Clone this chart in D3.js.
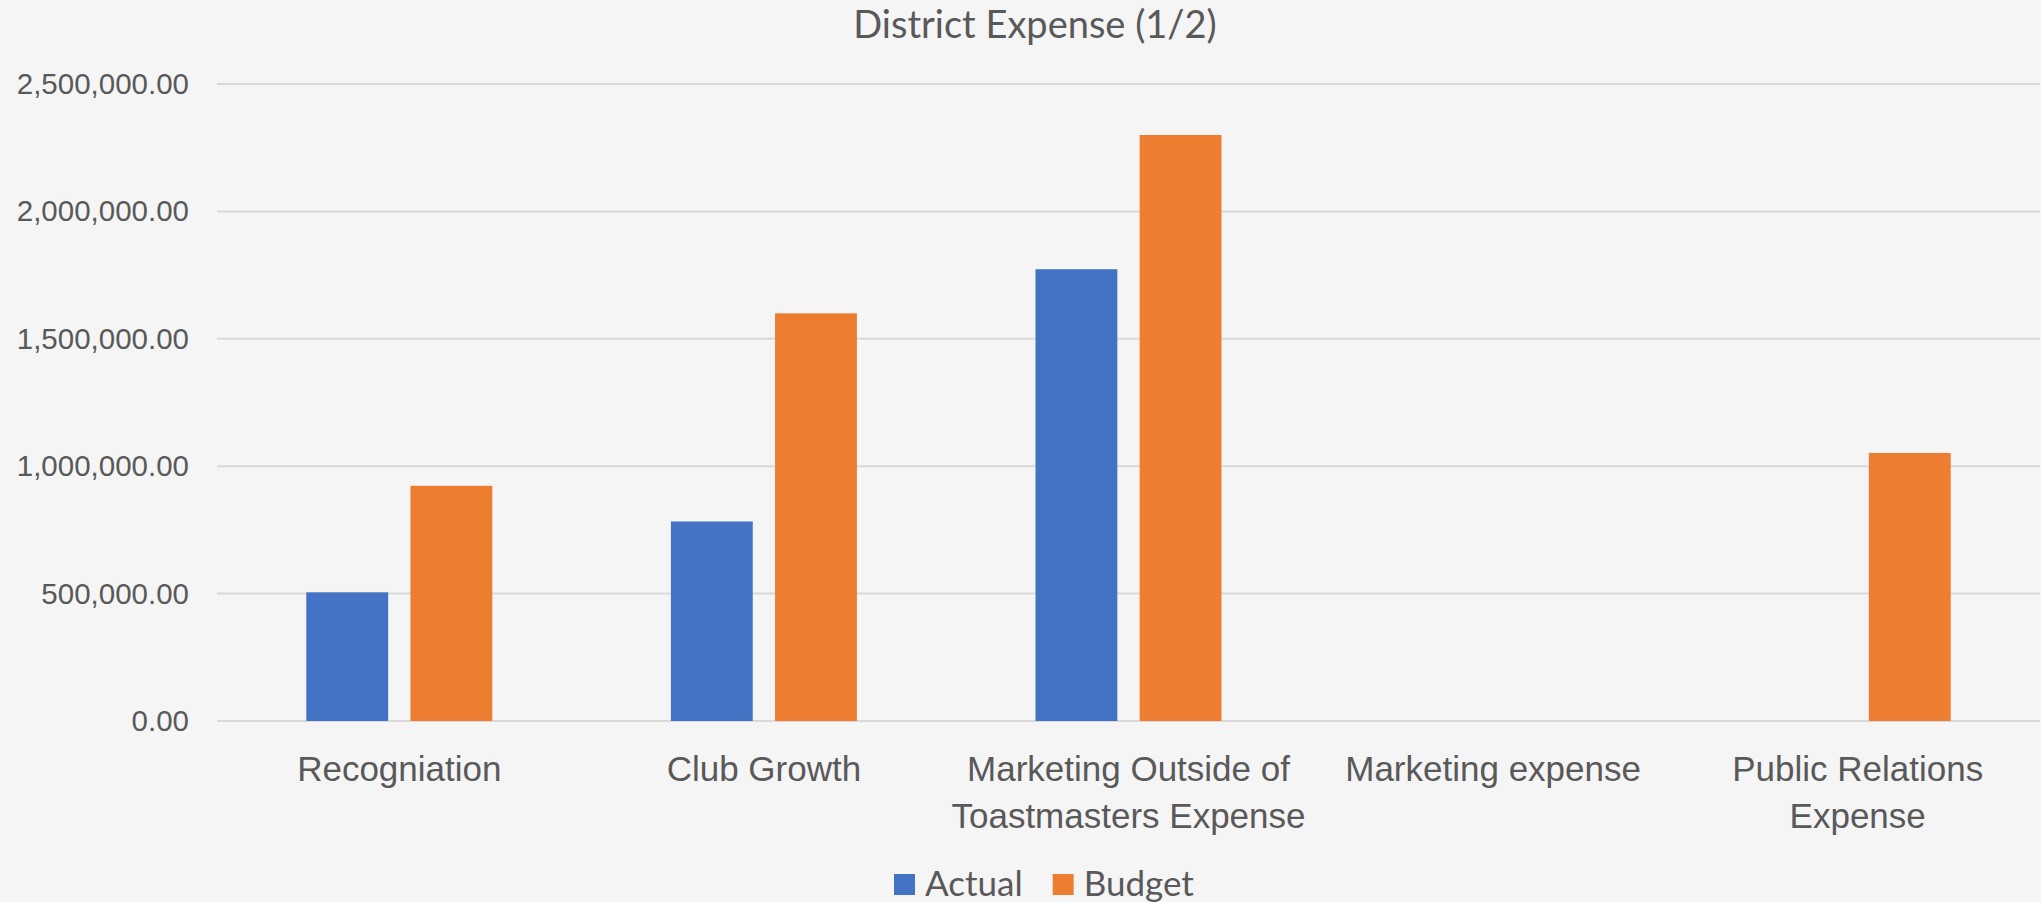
<!DOCTYPE html>
<html>
<head>
<meta charset="utf-8">
<script src="https://cdn.jsdelivr.net/npm/d3@7"></script>
<style>
  html, body { margin: 0; padding: 0; background: #f5f5f5; }
  svg { display: block; font-family: Lato, "Open Sans", sans-serif; }
  .axis path { display: none; }
</style>
</head>
<body>
<svg width="2041" height="902"></svg>
<script>
var categories = ["Recogniation", "Club Growth", "Marketing Outside of Toastmasters Expense", "Marketing expense", "Public Relations Expense"];
var seriesNames = ["Actual", "Budget"];
var actual = [505000, 783000, 1773000, 0, 0];
var budget = [923000, 1600000, 2300000, 0, 1052000];
var yTicks = [0, 500000, 1000000, 1500000, 2000000, 2500000];
var title = "District Expense (1/2)";

var colors = ["#4472c4", "#ed7d31"];
var textColor = "#595959";

var svg = d3.select("svg"),
    W = +svg.attr("width"),
    H = +svg.attr("height"),
    margin = {top: 84, right: 1, bottom: 181, left: 217},
    width = W - margin.left - margin.right,
    height = H - margin.top - margin.bottom,
    g = svg.append("g").attr("transform", "translate(" + margin.left + "," + margin.top + ")");

svg.insert("rect", ":first-child")
    .attr("width", W).attr("height", H).attr("fill", "#f5f5f5");

var rows = categories.map(function(c, i) {
  return {cat: c, values: [{s: 0, v: actual[i]}, {s: 1, v: budget[i]}]};
});

var x0 = d3.scaleBand()
    .domain(categories)
    .range([0, width])
    .padding(0);

var groupW = 186;
var x1 = d3.scaleBand()
    .domain(d3.range(seriesNames.length))
    .range([(x0.bandwidth() - groupW) / 2, (x0.bandwidth() + groupW) / 2])
    .paddingInner(0.214);

var y = d3.scaleLinear()
    .domain([0, 2500000])
    .range([height, 0]);

// grid
g.append("g")
  .selectAll("line")
  .data(yTicks)
  .enter().append("line")
    .attr("x1", 0)
    .attr("x2", width)
    .attr("y1", function(d) { return y(d); })
    .attr("y2", function(d) { return y(d); })
    .attr("stroke", "#d9d9d9")
    .attr("stroke-width", 2);

var groups = g.selectAll(".grp")
  .data(rows)
  .enter().append("g")
    .attr("class", "grp")
    .attr("transform", function(d) { return "translate(" + x0(d.cat) + ",0)"; });

groups.selectAll("rect")
  .data(function(d) { return d.values.filter(function(e) { return e.v > 0; }); })
  .enter().append("rect")
    .attr("x", function(d) { return x1(d.s); })
    .attr("y", function(d) { return y(d.v); })
    .attr("width", x1.bandwidth())
    .attr("height", function(d) { return y(0) - y(d.v); })
    .attr("fill", function(d) { return colors[d.s]; });

// y axis
var yAxis = g.append("g")
    .attr("class", "axis")
    .call(d3.axisLeft(y)
        .tickValues(yTicks)
        .tickSize(0)
        .tickPadding(28)
        .tickFormat(d3.format(",.2f")));
yAxis.selectAll("text")
    .attr("fill", textColor)
    .style("font-size", "29.5px");

// x axis
var xAxis = g.append("g")
    .attr("class", "axis")
    .attr("transform", "translate(0," + height + ")")
    .call(d3.axisBottom(x0).tickSize(0).tickPadding(0));
xAxis.selectAll("text")
    .attr("fill", textColor)
    .attr("y", 0)
    .attr("dy", 0)
    .style("font-size", "35px")
    .call(wrap, x0.bandwidth() - 2);

function wrap(sel, w) {
  sel.each(function() {
    var text = d3.select(this),
        words = text.text().split(/\s+/),
        lines = [], line = [];
    text.text(null);
    var probe = text.append("tspan");
    words.forEach(function(wd) {
      line.push(wd);
      probe.text(line.join(" "));
      if (probe.node().getComputedTextLength() > w && line.length > 1) {
        line.pop();
        lines.push(line.join(" "));
        line = [wd];
      }
    });
    lines.push(line.join(" "));
    probe.remove();
    lines.forEach(function(l, i) {
      text.append("tspan")
          .attr("x", 0)
          .attr("y", 60 + i * 47)
          .text(l);
    });
  });
}

// title
svg.append("text")
    .attr("x", 1035)
    .attr("y", 38)
    .attr("text-anchor", "middle")
    .attr("fill", textColor)
    .style("font-size", "38px")
    .text(title);

// legend
var legend = svg.append("g")
    .attr("transform", "translate(894,874)");
var lx = 0;
seriesNames.forEach(function(name, i) {
  var item = legend.append("g").attr("transform", "translate(" + lx + ",0)");
  item.append("rect")
      .attr("width", 21)
      .attr("height", 21)
      .attr("fill", colors[i]);
  var t = item.append("text")
      .attr("x", 31)
      .attr("y", 22)
      .attr("fill", textColor)
      .style("font-size", "35px")
      .text(name);
  lx += 31 + t.node().getComputedTextLength() + 30;
});
</script>
</body>
</html>
